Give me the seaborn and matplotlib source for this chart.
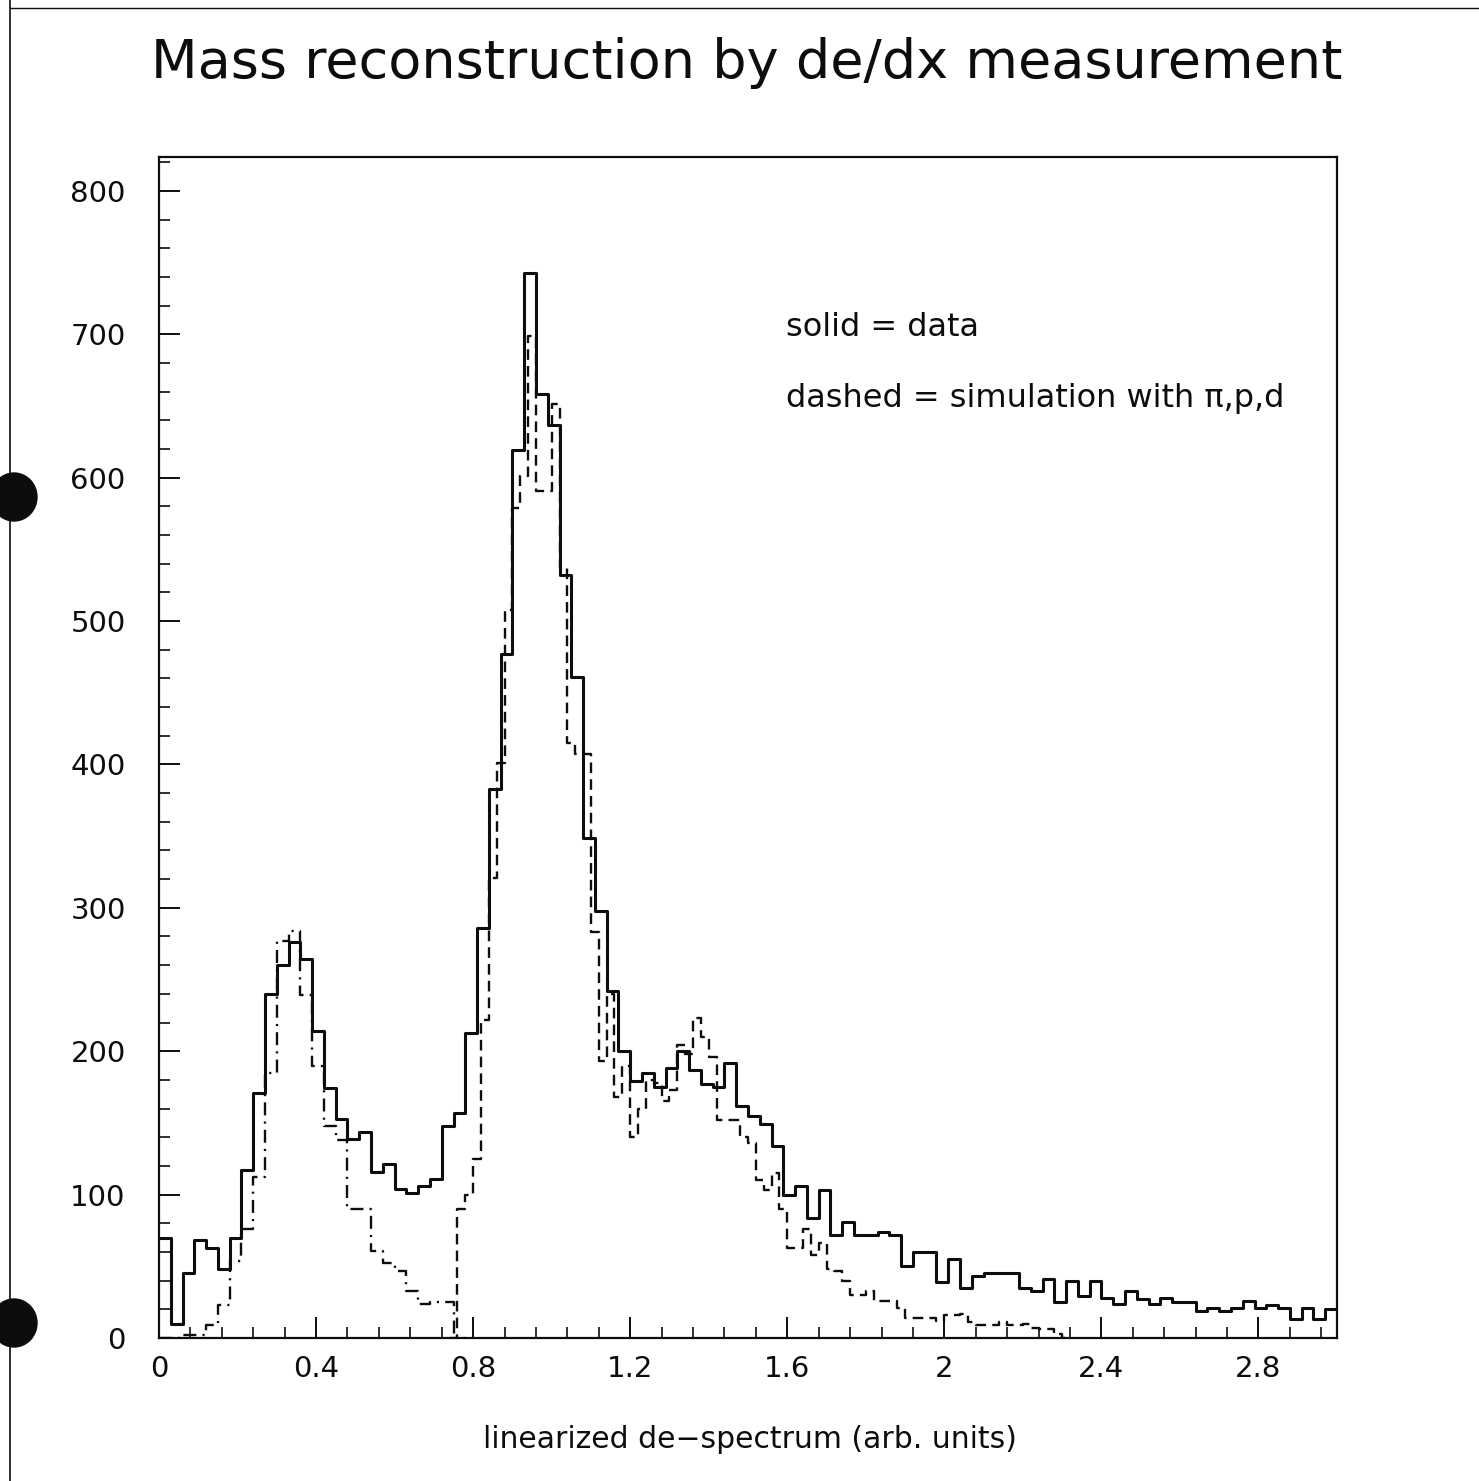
import numpy as np
import pandas as pd
import matplotlib
matplotlib.use("Agg")
import matplotlib.pyplot as plt
import seaborn as sns
from matplotlib.ticker import MultipleLocator, FixedLocator
from matplotlib.patches import Ellipse
from matplotlib.lines import Line2D

# ---------------- data ----------------
# measured data: 100 bins of width 0.03 from 0 to 3
data_bin_width = 0.03
data_start = 0.0
data_counts = [70, 10, 45, 68, 63, 48, 70, 117, 171, 240,
               260, 276, 264, 214, 174, 153, 139, 144, 116, 121,
               104, 101, 106, 111, 148, 157, 213, 286, 383, 477,
               619, 743, 658, 637, 532, 461, 349, 298, 242, 200,
               179, 185, 175, 188, 200, 187, 177, 175, 192, 162,
               155, 149, 134, 100, 106, 84, 103, 72, 81, 72,
               72, 74, 72, 50, 60, 60, 39, 55, 35, 43,
               45, 45, 45, 35, 33, 41, 25, 40, 29, 40,
               28, 24, 33, 27, 24, 28, 25, 25, 19, 21,
               19, 21, 26, 21, 23, 21, 13, 21, 13, 20]

# simulation, pion component: bins of width 0.03 from 0
sim_pi_bin_width = 0.03
sim_pi_start = 0.0
sim_pi_counts = [0, 0, 2, 2, 9, 23, 54, 76, 112, 185,
                 277, 284, 239, 190, 148, 138, 90, 90, 61, 52,
                 47, 33, 24, 25, 25, 0]

# simulation, proton + deuteron component: bins of width 0.02 from 0.74
sim_pd_bin_width = 0.02
sim_pd_start = 0.74
sim_pd_counts = [0, 90, 100, 125, 222, 321, 401, 508, 579, 601,
                 699, 591, 591, 651, 537, 415, 407, 407, 283, 193,
                 240, 168, 190, 140, 160, 180, 178, 165, 173, 204,
                 198, 223, 210, 196, 152, 152, 152, 140, 136, 110,
                 103, 115, 90, 63, 63, 76, 58, 66, 48, 47,
                 40, 30, 30, 33, 26, 26, 26, 21, 14, 14,
                 14, 14, 12, 16, 16, 17, 11, 9, 9, 9,
                 11, 9, 9, 10, 7, 6, 6, 3, 0]

x_major_ticks = [0, 0.4, 0.8, 1.2, 1.6, 2.0, 2.4, 2.8]
x_tick_labels = ["0", "0.4", "0.8", "1.2", "1.6", "2", "2.4", "2.8"]
y_major_ticks = [0, 100, 200, 300, 400, 500, 600, 700, 800]

title_text = "Mass reconstruction by de/dx measurement"
xlabel_text = "linearized de\u2212spectrum (arb. units)"
legend_lines = ["solid = data", "dashed = simulation with \u03c0,p,d"]


def hist_frame(start, width, counts):
    n = len(counts)
    edges = [round(start + width * i, 6) for i in range(n + 1)]
    centers = [0.5 * (edges[i] + edges[i + 1]) for i in range(n)]
    return pd.DataFrame({"x": centers, "count": counts}), edges


# ---------------- figure ----------------
sns.set_theme(style="white")
plt.rcParams["font.family"] = ["DejaVu Sans"]

W, H = 1479, 1481
fig = plt.figure(figsize=(W / 100, H / 100), dpi=100)
fig.patch.set_facecolor("white")

ax_l, ax_r, ax_t, ax_b = 159, 1337, 157, 1338
ax = fig.add_axes([ax_l / W, 1 - ax_b / H, (ax_r - ax_l) / W, (ax_b - ax_t) / H])
ax.set_facecolor("white")

ink = "#0d0d0d"

df_data, e_data = hist_frame(data_start, data_bin_width, data_counts)
df_pi, e_pi = hist_frame(sim_pi_start, sim_pi_bin_width, sim_pi_counts)
df_pd, e_pd = hist_frame(sim_pd_start, sim_pd_bin_width, sim_pd_counts)

sns.histplot(data=df_pi, x="x", weights="count", bins=e_pi, element="step",
             fill=False, color=ink, linewidth=1.7,
             linestyle=(0, (5.5, 2.6, 0.9, 2.6)), ax=ax)
sns.histplot(data=df_pd, x="x", weights="count", bins=e_pd, element="step",
             fill=False, color=ink, linewidth=1.7,
             linestyle=(0, (4.5, 2.6)), ax=ax)
sns.histplot(data=df_data, x="x", weights="count", bins=e_data, element="step",
             fill=False, color=ink, linewidth=2.2, ax=ax)

ax.set_xlim(0, 3.0)
ax.set_ylim(0, 823.6)
ax.set_xlabel("")
ax.set_ylabel("")

ax.xaxis.set_major_locator(FixedLocator(x_major_ticks))
ax.set_xticklabels(x_tick_labels)
ax.xaxis.set_minor_locator(MultipleLocator(0.08))
ax.yaxis.set_major_locator(FixedLocator(y_major_ticks))
ax.yaxis.set_minor_locator(MultipleLocator(20))

ax.tick_params(axis="both", which="both", direction="in", bottom=True, left=True,
               top=False, right=False, colors=ink, labelcolor=ink)
ax.tick_params(axis="both", which="major", length=15, width=1.4, labelsize=21)
ax.tick_params(axis="both", which="minor", length=8, width=1.2)
ax.tick_params(axis="y", which="major", pad=24)
ax.tick_params(axis="x", which="major", pad=12)

for s in ax.spines.values():
    s.set_visible(True)
    s.set_color(ink)
    s.set_linewidth(1.6)

# legend-like annotation
ax.text((786 - ax_l) / (ax_r - ax_l), (ax_b - 327) / (ax_b - ax_t), legend_lines[0],
        transform=ax.transAxes, ha="left", va="center", fontsize=23, color=ink)
ax.text((786 - ax_l) / (ax_r - ax_l), (ax_b - 398) / (ax_b - ax_t), legend_lines[1],
        transform=ax.transAxes, ha="left", va="center", fontsize=23, color=ink)

# title and x label
fig.text(747 / W, 1 - 63 / H, title_text, ha="center", va="center",
         fontsize=39, color=ink)
fig.text(750 / W, 1 - 1440 / H, xlabel_text, ha="center", va="center",
         fontsize=21.5, color=ink)

# scanned page border and punch holes
fig.add_artist(Line2D([10 / W, 10 / W], [0, 1], transform=fig.transFigure,
                      color=ink, linewidth=1.2))
fig.add_artist(Line2D([10 / W, 1], [1 - 8 / H, 1 - 8 / H], transform=fig.transFigure,
                      color=ink, linewidth=1.0))
for cy in (497, 1323):
    fig.add_artist(Ellipse((14 / W, 1 - cy / H), 46 / W, 48 / H,
                           transform=fig.transFigure, color=ink))

fig.savefig("out.png", dpi=100, facecolor="white")
